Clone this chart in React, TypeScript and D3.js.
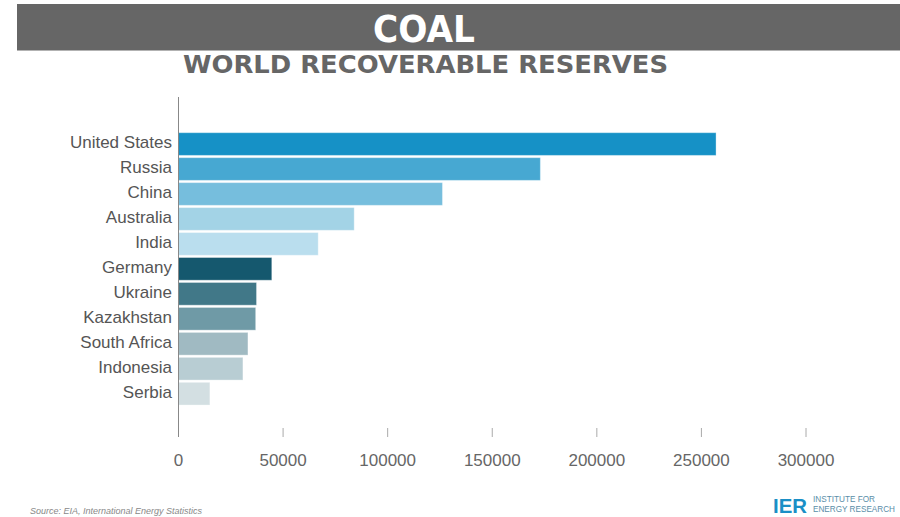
import React from "react";
import * as d3 from "d3";

const countries = ["United States","Russia","China","Australia","India","Germany","Ukraine","Kazakhstan","South Africa","Indonesia","Serbia"];
const reserves = [257000, 173000, 126200, 84000, 66800, 44600, 37300, 36900, 33200, 30800, 15000];
const colors = ["#1691c6","#47a8d2","#76bedd","#a3d3e6","#badeee","#15586e","#417888","#6f9aa6","#a0bac2","#b8cdd3","#d3dfe2"];
const xTicks = [0, 50000, 100000, 150000, 200000, 250000, 300000];

export default function App() {
  const W = 900, H = 517;
  const x = d3.scaleLinear().domain([0, 300000]).range([178.5, 806]);
  const y = d3.scaleBand<string>().domain(countries).range([131.45, 406.3]).paddingInner(0.09).paddingOuter(0.05);
  const font = "'Liberation Sans', Arial, Helvetica, sans-serif";
  return (
    <svg width={W} height={H} style={{ position: "absolute", left: 0, top: 0, background: "#fff" }} fontFamily={font}>
      <rect x={17} y={4} width={883} height={46.5} fill="#666666" />
      <text x={424} y={42} textAnchor="middle" fill="#ffffff" fontFamily="'DejaVu Sans', sans-serif" fontWeight="bold" fontSize={37} textLength={102} lengthAdjust="spacingAndGlyphs">COAL</text>
      <text x={425.5} y={73} textAnchor="middle" fill="#666666" fontFamily="'DejaVu Sans', sans-serif" fontWeight="bold" fontSize={25} textLength={485} lengthAdjust="spacingAndGlyphs">WORLD RECOVERABLE RESERVES</text>

      {countries.map((c, i) => (
        <g key={c}>
          <rect x={x(0)} y={y(c)} width={x(reserves[i]) - x(0)} height={y.bandwidth()} fill={colors[i]} stroke="#ffffff" strokeOpacity={0.35} strokeWidth={1} />
          <text x={172} y={(y(c) as number) + y.bandwidth() / 2 - 2} dy="0.35em" textAnchor="end" fill="#555555" fontSize={17}>{c}</text>
        </g>
      ))}

      <line x1={x(0)} x2={x(0)} y1={97} y2={437} stroke="#888888" strokeWidth={1} />
      {xTicks.map((t) => (
        <g key={t}>
          {t !== 0 && <line x1={x(t)} x2={x(t)} y1={428} y2={437} stroke="#aaaaaa" strokeWidth={1} />}
          <text x={x(t)} y={466} textAnchor="middle" fill="#666666" fontSize={17}>{t}</text>
        </g>
      ))}

      <text x={30} y={514} fill="#888888" fontSize={9} fontStyle="italic">Source: EIA, International Energy Statistics</text>

      <text x={773} y={513} fill="#1a8fc6" fontWeight="bold" fontSize={21} textLength={34} lengthAdjust="spacingAndGlyphs">IER</text>
      <text x={813} y={502} fill="#5a8ea8" fontSize={8.2} textLength={62} lengthAdjust="spacingAndGlyphs">INSTITUTE FOR</text>
      <text x={813} y={512} fill="#5a8ea8" fontSize={8.2} textLength={82} lengthAdjust="spacingAndGlyphs">ENERGY RESEARCH</text>
    </svg>
  );
}
